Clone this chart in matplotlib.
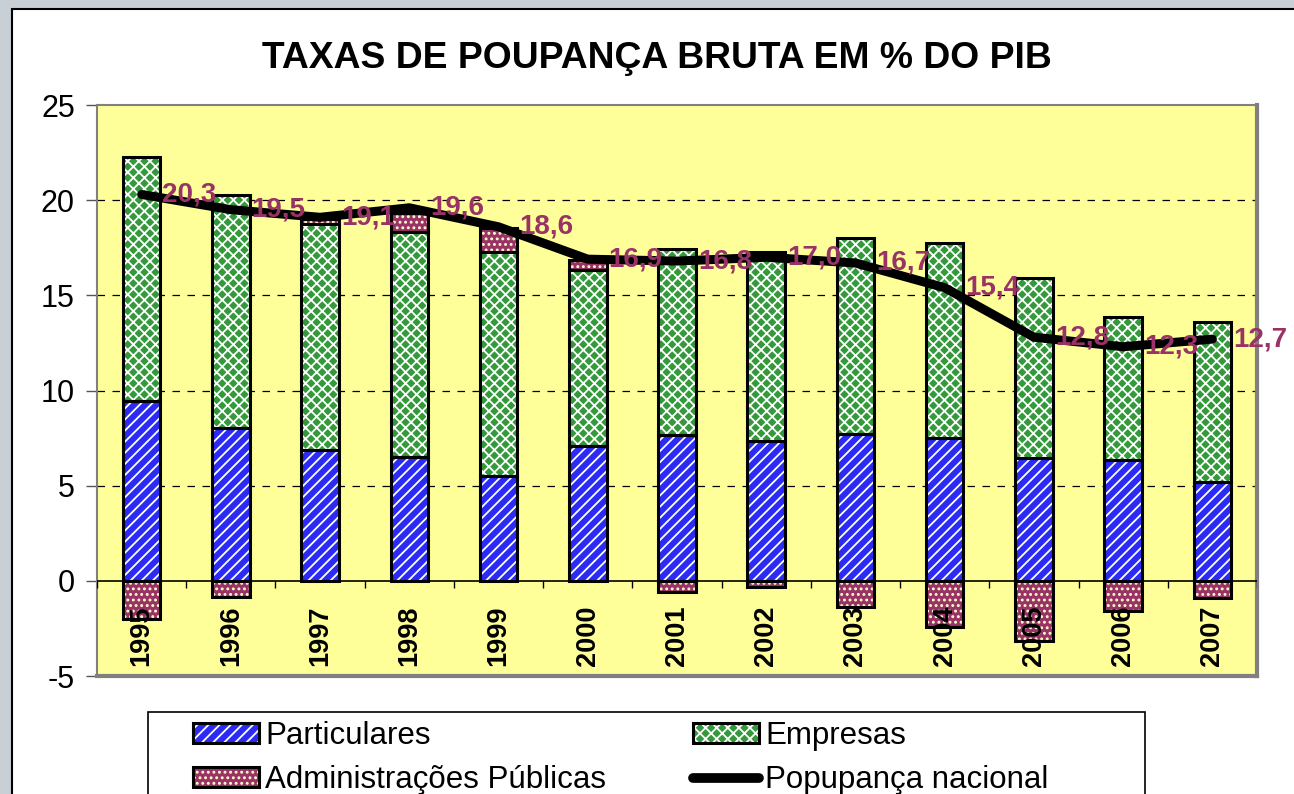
import numpy as np
import matplotlib
matplotlib.use('Agg')
import matplotlib.pyplot as plt
from matplotlib.patches import Rectangle, Patch
from matplotlib.lines import Line2D

# dados (% do PIB)
anos = ['1995', '1996', '1997', '1998', '1999', '2000', '2001',
        '2002', '2003', '2004', '2005', '2006', '2007']
particulares = [9.45, 8.05, 6.85, 6.5, 5.5, 7.1, 7.65, 7.35, 7.7, 7.5, 6.45, 6.35, 5.2]
empresas = [12.8, 12.2, 11.9, 11.85, 11.77, 9.23, 9.77, 9.91, 10.3, 10.24, 9.45, 7.5, 8.39]
adm_publicas = [-2.0, -0.85, 0.25, 0.95, 1.25, 0.55, -0.6, -0.35, -1.4, -2.45, -3.15, -1.6, -0.9]
nacional = [20.3, 19.5, 19.1, 19.6, 18.6, 16.9, 16.8, 17.0, 16.7, 15.4, 12.8, 12.3, 12.7]

plt.rcParams['font.family'] = ['Liberation Sans', 'DejaVu Sans']
plt.rcParams['hatch.linewidth'] = 1.3
plt.rcParams['axes.unicode_minus'] = False

azul = '#2B2BF5'
verde = '#33993A'
ameixa = '#993366'

fig = plt.figure(figsize=(12.94, 7.94), dpi=100, facecolor='#C8D0D6')
fig.patches.append(Rectangle((12 / 1294, -0.1), 1.0, 1.1 - 9 / 794,
                             transform=fig.transFigure, facecolor='white',
                             edgecolor='black', linewidth=1.5, zorder=-2))
# caixa da legenda
fig.patches.append(Rectangle((148 / 1294, -0.1), 997 / 1294, 0.1 + 1 - 712 / 794,
                             transform=fig.transFigure, facecolor='white',
                             edgecolor='black', linewidth=1.2, zorder=-1))

ax = fig.add_axes([97 / 1294, 1 - 676 / 794, 1160 / 1294, 571 / 794])
ax.set_facecolor('#FFFF99')

x = np.arange(len(anos))
part = np.array(particulares)
emp = np.array(empresas)
ap = np.array(adm_publicas)
ap_base = np.where(ap > 0, part + emp, 0)
w = 0.42

series = [
    (part, 0, azul, 'white', '///', 'Particulares'),
    (emp, part, verde, 'white', 'xxx', 'Empresas'),
    (ap, ap_base, ameixa, '#FFFFCC', '...', 'Administrações Públicas'),
]
handles = []
for vals, base, cor, hcor, hatch, nome in series:
    ax.bar(x, vals, w, bottom=base, color=cor, edgecolor=hcor, hatch=hatch,
           linewidth=0, zorder=3)
    ax.bar(x, vals, w, bottom=base, fill=False, edgecolor='black',
           linewidth=2.2, zorder=4)
    handles.append((Patch(facecolor=cor, edgecolor=hcor, hatch=hatch, linewidth=0),
                    Patch(fill=False, edgecolor='black', linewidth=2.2)))

ax.plot(x, nacional, color='black', linewidth=6.5, solid_joinstyle='round',
        solid_capstyle='round', zorder=5)
for xi, v in zip(x, nacional):
    ax.annotate(f'{v:.1f}'.replace('.', ','), (xi, v), xytext=(15, 0),
                textcoords='offset points', ha='left', va='center',
                fontsize=20, fontweight='bold', color=ameixa, zorder=6,
                annotation_clip=False)

# eixo
ax.set_xlim(-0.5, len(anos) - 0.5)
ax.set_ylim(-5, 25)
ax.set_yticks([-5, 0, 5, 10, 15, 20, 25])
ax.tick_params(axis='y', labelsize=22, length=8, width=1, color='#555555', pad=8)
ax.set_xticks([])
for g in [5, 10, 15, 20]:
    ax.axhline(g, color='black', linewidth=0.9, linestyle=(0, (6, 6)), zorder=1)
ax.axhline(0, color='black', linewidth=1.2, zorder=6)
ax.vlines(np.arange(len(anos) + 1) - 0.5, -0.4, 0, color='black', linewidth=1, zorder=6)
for xi, a in zip(x, anos):
    ax.text(xi, -4.45, a, rotation=90, ha='center', va='bottom',
            fontsize=19.5, fontweight='bold', zorder=7)
for s in ax.spines.values():
    s.set_color('#808080')
    s.set_linewidth(1.5)
ax.spines['right'].set_linewidth(3)
ax.spines['bottom'].set_linewidth(3)

fig.text(657 / 1294, 1 - 58 / 794, 'TAXAS DE POUPANÇA BRUTA EM % DO PIB', ha='center',
         va='center', fontsize=26.8, fontweight='bold')

linha = Line2D([], [], color='black', linewidth=7, solid_capstyle='round')
# ordem por colunas para ficar Particulares | Empresas na primeira linha
leg_handles = [handles[0], handles[2], handles[1], linha]
nomes = ['Particulares', 'Administrações Públicas', 'Empresas', 'Popupança nacional']
leg = fig.legend(leg_handles, nomes, ncol=2, loc='upper left',
                 bbox_to_anchor=(193 / 1294, 1 - 721 / 794),
                 fontsize=22.5, frameon=False, borderpad=0,
                 handlelength=2.1, handleheight=0.6, handletextpad=0.2,
                 labelspacing=0.45, columnspacing=2.8, borderaxespad=0)

fig.savefig('out.png', dpi=100, facecolor=fig.get_facecolor())
